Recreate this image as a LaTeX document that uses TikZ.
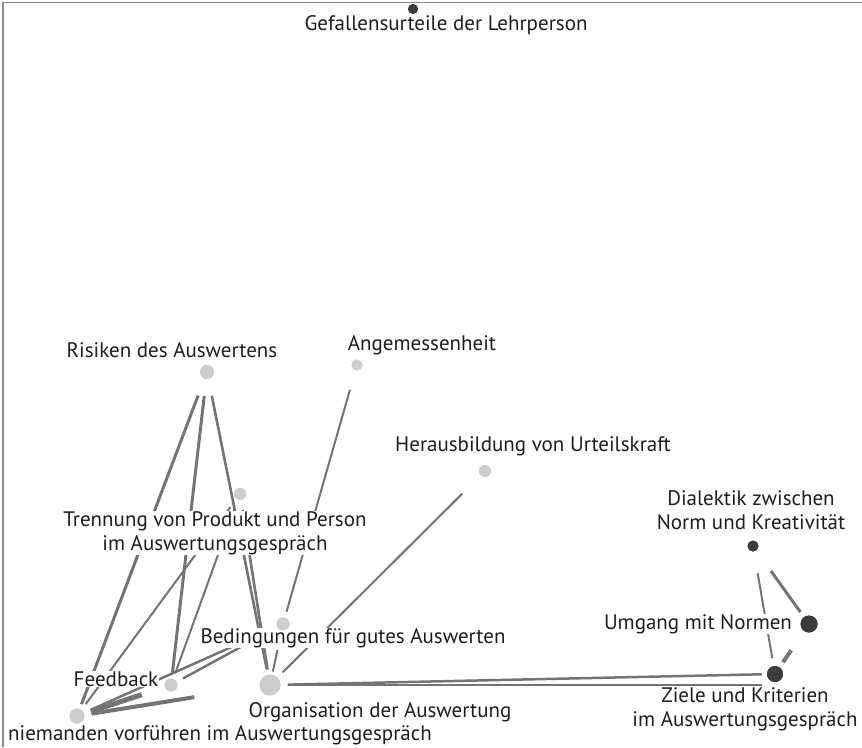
\documentclass[tikz,border=0pt]{standalone}
\usepackage{fontspec}
\setmainfont{PT Sans}
\definecolor{txtcol}{HTML}{1E1E1E}
\definecolor{linecol}{HTML}{747474}
\definecolor{lightdot}{HTML}{CDCDCD}
\definecolor{darkdot}{HTML}{3C3C3C}
\definecolor{framecol}{HTML}{8A8A8A}
\begin{document}
\begin{tikzpicture}[x=1pt,y=-1pt,
  lbl/.style={fill=white,inner sep=0.5pt,text=txtcol,font=\fontsize{21}{24}\selectfont,align=center},
  ldot/.style={circle,inner sep=0pt,fill=lightdot,minimum size=#1},
  ddot/.style={circle,inner sep=0pt,fill=darkdot,minimum size=#1},
  conn/.style={draw=linecol,line width=2pt}]
\useasboundingbox (0,0) rectangle (862,747);
% frame
\draw[framecol,line width=1.3pt] (3,747) -- (3,2.5) -- (862,2.5);
% dots (positions)
\node[ddot=10pt] (G) at (413,9) {};
\node[ldot=14pt] (R) at (207,372) {};
\node[ldot=11pt] (A) at (357,365) {};
\node[ldot=12pt] (H) at (485,471) {};
\node[ldot=12pt] (T) at (240,494) {};
\node[ldot=13pt] (B) at (283,624) {};
\node[ldot=13pt] (F) at (171,685) {};
\node[ldot=15pt] (N) at (77,716) {};
\node[ldot=21pt] (O) at (270,685) {};
\node[ddot=11pt] (D) at (753,546) {};
\node[ddot=17pt] (U) at (809,624) {};
\node[ddot=16pt] (Z) at (775,674) {};
\coordinate (Zlow) at (775,685);
% connectors
\draw[conn,line width=3pt,shorten <=18pt,shorten >=5pt] (R) -- (N);
\draw[conn,line width=3pt,shorten <=17pt,shorten >=5pt] (R) -- (F);
\draw[conn,line width=2.6pt,shorten <=17pt,shorten >=5pt] (R) -- (O);
\draw[conn,line width=2.6pt,shorten <=10pt,shorten >=5pt] (T) -- (O);
\draw[conn,shorten <=10pt,shorten >=7pt] (T) -- (N);
\draw[conn,shorten <=10pt,shorten >=6pt] (T) -- (F);
\draw[conn,shorten <=20pt,shorten >=6pt] (A) -- (B);
\draw[conn,line width=2.5pt,shorten <=10pt,shorten >=7pt] (B) -- (F);
\draw[conn,line width=2.5pt,shorten <=10pt,shorten >=7pt] (B) -- (N);
\draw[conn,shorten <=20pt,shorten >=3pt] (B) -- (O);
\draw[conn,shorten <=26pt,shorten >=7pt] (H) -- (O);
\draw[conn,line width=2.5pt,shorten <=7pt,shorten >=5pt] (O) -- (Z);
\draw[conn,line width=2.5pt,shorten <=7pt,shorten >=13pt] (O) -- (Zlow);
\draw[conn,line width=5pt,shorten <=7pt,shorten >=24pt] (N) -- (F);
\draw[conn,line width=4pt,shorten <=7pt,shorten >=66pt] (N) -- (O);
\draw[conn,shorten <=22pt,shorten >=8pt] (D) -- (Z);
\draw[conn,line width=3pt,shorten <=25pt,shorten >=6pt] (D) -- (U);
\draw[conn,line width=4pt,shorten <=23pt,shorten >=6pt] (U) -- (Z);
% labels
\node[lbl] (Gl) at (446,25) {Gefallensurteile der Lehrperson};
\node[lbl] (Rl) at (172,350) {Risiken des Auswertens};
\node[lbl] (Al) at (422,345) {Angemessenheit};
\node[lbl] (Hl) at (533,446) {Herausbildung von Urteilskraft};
\node[lbl] (Tl) at (215,533) {Trennung von Produkt und Person\\im Auswertungsgespräch};
\node[lbl] (Bl) at (353,638) {Bedingungen für gutes Auswerten};
\node[lbl] (Fl) at (116,679) {Feedback};
\node[lbl] (Nl) at (220,735) {niemanden vorführen im Auswertungsgespräch};
\node[lbl] (Ol) at (380,712) {Organisation der Auswertung};
\node[lbl] (Dl) at (751,510) {Dialektik zwischen\\Norm und Kreativität};
\node[lbl] (Ul) at (698,624) {Umgang mit Normen};
\node[lbl] (Zl) at (745,709.5) {Ziele und Kriterien\\im Auswertungsgespräch};
% redraw dots on top
\foreach \n/\s/\c in {R/14/lightdot,A/11/lightdot,H/12/lightdot,T/12/lightdot,B/13/lightdot,F/13/lightdot,N/15/lightdot,O/21/lightdot,G/10/darkdot,D/11/darkdot,U/17/darkdot,Z/16/darkdot}
  \fill[\c] (\n.center) circle[radius=\s pt/2];
\end{tikzpicture}
\end{document}
